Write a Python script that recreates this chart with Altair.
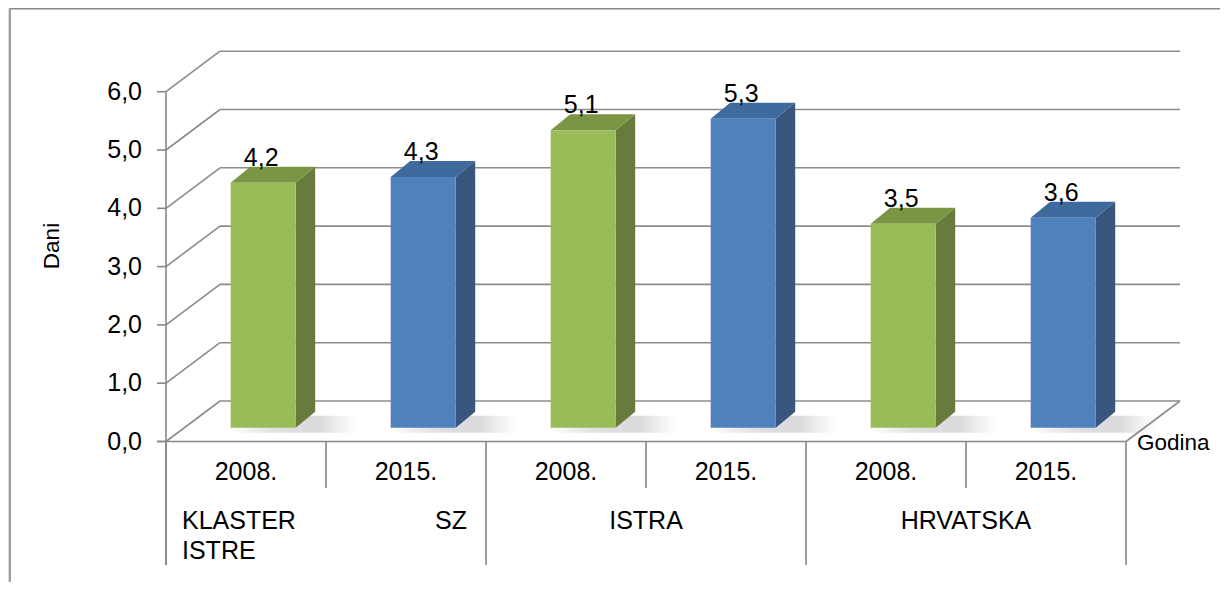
import altair as alt
import pandas as pd

# ---------------- data ----------------
regions = ["KLASTER ISTRE SZ", "ISTRA", "HRVATSKA"]
years = ["2008.", "2015."]
values = [4.2, 4.3, 5.1, 5.3, 3.5, 3.6]
y_ticks = [0, 1, 2, 3, 4, 5, 6]
y_tick_labels = ["0,0", "1,0", "2,0", "3,0", "4,0", "5,0", "6,0"]
y_title = "Dani"
x_title = "Godina"

front_colors = ["#9BBB59", "#4F81BD"]
side_colors = ["#687B3C", "#37557D"]
top_colors = ["#7A9543", "#3F6A9E"]

# ---------------- layout (page pixels -> data units) ----------------
W, H = 1212, 574
M = 8
X0 = 166.0   # page x of the category axis start
SLOT = 160.0
Y0 = 441.5   # page y of value 0 on the front axis
UNIT = 58.3


def sx(px):
    return (px - X0) / SLOT


def sy(py):
    return (Y0 - py) / UNIT


xs = alt.Scale(domain=[sx(M), sx(M + W)], nice=False, zero=False)
ys = alt.Scale(domain=[sy(M + H), sy(M)], nice=False, zero=False)

WDX, WDY = 54 / SLOT, 40.5 / UNIT      # wall depth
BASE = 13.8 / UNIT                     # bar base lift
FL, FR = -15.3 / SLOT, 49.7 / SLOT     # front face edges from slot centre
BDX, BDY = 19.5 / SLOT, 16 / UNIT      # bar depth

n = len(values)


def X(f="x"):
    return alt.X(f, type="quantitative", scale=xs, axis=None)


def Y(f="y"):
    return alt.Y(f, type="quantitative", scale=ys, axis=None)


# ---------------- bar geometry ----------------
fronts, sides, tops, shadows, vlabels = [], [], [], [], []
for i, v in enumerate(values):
    k = i % 2
    c = i + 0.5
    l, r = c + FL, c + FR
    fronts.append(dict(x=l, x2=r, y=BASE, y2=BASE + v, col=front_colors[k]))
    sides += [dict(x=r, y=BASE, y2=BASE + v, col=side_colors[k], b=i),
              dict(x=r + BDX, y=BASE + BDY, y2=BASE + v + BDY, col=side_colors[k], b=i)]
    tops += [dict(y=BASE + v, x=l, x2=r, col=top_colors[k], b=i),
             dict(y=BASE + v + BDY, x=l + BDX, x2=r + BDX, col=top_colors[k], b=i)]
    shadows.append(dict(x=l - 2 / SLOT, x2=r + BDX + 40 / SLOT,
                        y=BASE - 5 / UNIT, y2=BASE + 12 / UNIT))
    vlabels.append(dict(x=(l + r) / 2 - 2 / SLOT, y=BASE + v,
                        t=f"{v:.1f}".replace(".", ",")))

col = alt.Color("col:N", scale=None, legend=None)

front_layer = alt.Chart(pd.DataFrame(fronts)).mark_rect().encode(
    x=X(), x2="x2", y=Y(), y2="y2", color=col)
side_layer = alt.Chart(pd.DataFrame(sides)).mark_area(orient="vertical").encode(
    x=X(), y=alt.Y("y", type="quantitative", scale=ys, axis=None, stack=None),
    y2="y2", detail="b:N", color=col)
top_layer = alt.Chart(pd.DataFrame(tops)).mark_area(orient="horizontal").encode(
    y=Y(), x=alt.X("x", type="quantitative", scale=xs, axis=None, stack=None),
    x2="x2", detail="b:N", color=col)

shadow_grad = alt.LinearGradient(
    gradient="linear", x1=0, x2=1, y1=0, y2=0,
    stops=[alt.GradientStop(color="#ffffff", offset=0),
           alt.GradientStop(color="#d8d8d8", offset=0.35),
           alt.GradientStop(color="#cdcdcd", offset=0.7),
           alt.GradientStop(color="#ffffff", offset=1)])
shadow_layer = alt.Chart(pd.DataFrame(shadows)).mark_rect(
    color=shadow_grad, opacity=0.75).encode(x=X(), x2="x2", y=Y(), y2="y2")

# ---------------- grid, walls, axes ----------------
grid = []
for v in y_ticks:
    grid.append(dict(x=WDX, x2=n + WDX, y=v + WDY, y2=v + WDY))
    grid.append(dict(x=0, x2=WDX, y=v, y2=v + WDY))
grid.append(dict(x=n, x2=n + WDX, y=0, y2=WDY))
grid_layer = alt.Chart(pd.DataFrame(grid)).mark_rule(
    color="#8c8c8c", strokeWidth=1.6).encode(x=X(), x2="x2", y=Y(), y2="y2")

axes = []
axes.append(dict(x=0, x2=0, y=sy(565), y2=max(y_ticks)))
axes.append(dict(x=sx(157), x2=n, y=0, y2=0))
for v in y_ticks:
    axes.append(dict(x=sx(157), x2=0, y=v, y2=v))
for k in range(n + 1):
    bottom = sy(565) if k % 2 == 0 else sy(488)
    axes.append(dict(x=k, x2=k, y=0, y2=bottom))
# outer frame (top and left edges only)
axes.append(dict(x=sx(10), x2=sx(10), y=sy(8.8), y2=sy(M + H)))
axes.append(dict(x=sx(10), x2=sx(M + W), y=sy(8.8), y2=sy(8.8)))
axes_layer = alt.Chart(pd.DataFrame(axes)).mark_rule(
    color="#878787", strokeWidth=1.6).encode(x=X(), x2="x2", y=Y(), y2="y2")

# ---------------- texts ----------------
FONT = "Liberation Sans"
FS = 25

ytl = pd.DataFrame(dict(x=[sx(142)] * len(y_ticks), y=y_ticks, t=y_tick_labels))
ytl_layer = alt.Chart(ytl).mark_text(align="right", baseline="middle", font=FONT,
                                      fontSize=FS, color="black").encode(
    x=X(), y=Y(), text="t:N")

yrs = pd.DataFrame(dict(x=[i + 0.5 for i in range(n)], y=[sy(472)] * n,
                        t=[years[i % 2] for i in range(n)]))
yrs_layer = alt.Chart(yrs).mark_text(align="center", baseline="middle", font=FONT,
                                      fontSize=FS, color="black").encode(
    x=X(), y=Y(), text="t:N")

w = regions[0].split()
reg_rows = [
    dict(x=sx(182), y=sy(521), t=w[0], a="left"),
    dict(x=sx(182), y=sy(551), t=w[1], a="left"),
    dict(x=sx(467), y=sy(521), t=w[2], a="right"),
    dict(x=3.0, y=sy(521), t=regions[1], a="center"),
    dict(x=5.0, y=sy(521), t=regions[2], a="center"),
]
reg_layers = []
for a in ["left", "right", "center"]:
    d = pd.DataFrame([r for r in reg_rows if r["a"] == a])
    reg_layers.append(alt.Chart(d).mark_text(align=a, baseline="middle", font=FONT,
                                             fontSize=FS, color="black").encode(
        x=X(), y=Y(), text="t:N"))

val_layer = alt.Chart(pd.DataFrame(vlabels)).mark_text(
    align="center", baseline="alphabetic", dy=-17, font=FONT, fontSize=FS,
    color="black").encode(x=X(), y=Y(), text="t:N")

ytitle_layer = alt.Chart(pd.DataFrame([dict(x=sx(51.5), y=sy(246), t=y_title)])).mark_text(
    angle=270, align="center", baseline="middle", font=FONT, fontSize=22.5,
    color="black").encode(x=X(), y=Y(), text="t:N")
xtitle_layer = alt.Chart(pd.DataFrame([dict(x=sx(1137), y=sy(443), t=x_title)])).mark_text(
    align="left", baseline="middle", font=FONT, fontSize=22.5,
    color="black").encode(x=X(), y=Y(), text="t:N")

chart = alt.layer(
    shadow_layer, grid_layer, side_layer, top_layer, front_layer, axes_layer,
    ytl_layer, yrs_layer, *reg_layers, val_layer, ytitle_layer, xtitle_layer,
).properties(width=W, height=H, padding=0, autosize=alt.AutoSizeParams(type="none")
).configure_view(stroke=None).configure(background="white")

chart.save("out.html", embed_options={"renderer": "svg", "actions": False})
